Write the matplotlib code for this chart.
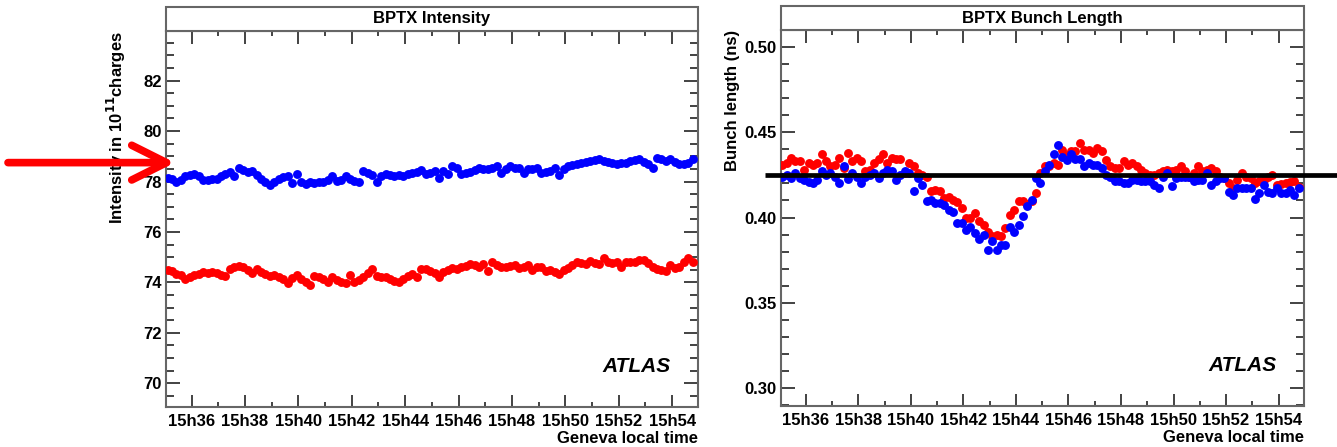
import numpy as np
import matplotlib
matplotlib.use("Agg")
import matplotlib.pyplot as plt
from matplotlib.patches import Rectangle
from matplotlib.ticker import FixedLocator, MultipleLocator

plt.rcParams['font.family'] = ['Liberation Sans', 'DejaVu Sans']
plt.rcParams['font.weight'] = 'bold'
plt.rcParams['mathtext.default'] = 'bf'

# ---------------- data ----------------
# sampling grid: minutes after 15h00, one reading every 10 s
t_start = 35.1
t_step = 1.0 / 6.0

intensity_blue = [
    78.15, 78.10, 78.00, 78.05, 78.20, 78.25, 78.28, 78.20, 78.08, 78.05,
    78.10, 78.12, 78.20, 78.30, 78.38, 78.20, 78.55, 78.45, 78.38, 78.42,
    78.25, 78.10, 77.98, 77.88, 77.98, 78.12, 78.18, 78.22, 77.95, 78.30,
    78.00, 77.92, 77.98, 77.95, 78.00, 77.98, 78.08, 78.20, 78.02, 78.05,
    78.20, 78.12, 78.02, 78.00, 78.40, 78.35, 78.25, 78.00, 78.22, 78.28,
    78.25, 78.22, 78.25, 78.20, 78.28, 78.32, 78.38, 78.45, 78.30, 78.35,
    78.40, 78.15, 78.40, 78.30, 78.60, 78.55, 78.28, 78.32, 78.38, 78.45,
    78.55, 78.50, 78.48, 78.55, 78.63, 78.35, 78.50, 78.60, 78.52, 78.55,
    78.35, 78.50, 78.48, 78.52, 78.32, 78.38, 78.42, 78.55, 78.25, 78.50,
    78.60, 78.67, 78.70, 78.72, 78.77, 78.80, 78.85, 78.90, 78.82, 78.78,
    78.75, 78.68, 78.72, 78.75, 78.80, 78.85, 78.88, 78.78, 78.70, 78.55,
    78.95, 78.88, 78.80, 78.90, 78.78, 78.70, 78.68, 78.72, 78.88,
]
intensity_red = [
    74.48, 74.45, 74.35, 74.30, 74.15, 74.22, 74.28, 74.35, 74.40, 74.38,
    74.42, 74.36, 74.30, 74.25, 74.55, 74.62, 74.65, 74.60, 74.50, 74.38,
    74.52, 74.42, 74.35, 74.25, 74.28, 74.20, 74.12, 73.98, 74.18, 74.30,
    74.12, 74.00, 73.90, 74.25, 74.20, 74.12, 74.00, 74.22, 74.10, 74.02,
    73.98, 74.30, 74.00, 74.10, 74.20, 74.36, 74.52, 74.25, 74.22, 74.20,
    74.13, 74.05, 74.02, 74.12, 74.25, 74.35, 74.20, 74.55, 74.52, 74.45,
    74.38, 74.22, 74.42, 74.50, 74.57, 74.55, 74.60, 74.65, 74.72, 74.68,
    74.62, 74.74, 74.45, 74.82, 74.70, 74.62, 74.60, 74.65, 74.70, 74.57,
    74.62, 74.68, 74.48, 74.60, 74.62, 74.45, 74.48, 74.42, 74.33, 74.48,
    74.58, 74.70, 74.82, 74.75, 74.72, 74.83, 74.75, 74.72, 74.95, 74.80,
    74.78, 74.80, 74.60, 74.80, 74.82, 74.80, 74.88, 74.90, 74.75, 74.62,
    74.55, 74.50, 74.45, 74.68, 74.58, 74.62, 74.80, 74.95, 74.82,
]
bunch_red = [
    0.4310, 0.4320, 0.4350, 0.4330, 0.4330, 0.4280, 0.4320, 0.4310, 0.4320, 0.4370,
    0.4330, 0.4300, 0.4310, 0.4350, 0.4290, 0.4380, 0.4330, 0.4350, 0.4330, 0.4270,
    0.4280, 0.4320, 0.4340, 0.4370, 0.4320, 0.4350, 0.4340, 0.4340, 0.4260, 0.4320,
    0.4300, 0.4260, 0.4250, 0.4240, 0.4155, 0.4160, 0.4155, 0.4115, 0.4120, 0.4100,
    0.4090, 0.4055, 0.3996, 0.3996, 0.4026, 0.3980, 0.3957, 0.3918, 0.3889, 0.3898,
    0.3889, 0.3938, 0.4016, 0.4045, 0.4094, 0.4094, 0.4080, 0.4094, 0.4143, 0.4260,
    0.4299, 0.4300, 0.4318, 0.4309, 0.4397, 0.4367, 0.4387, 0.4387, 0.4439, 0.4397,
    0.4397, 0.4377, 0.4406, 0.4387, 0.4338, 0.4299, 0.4289, 0.4289, 0.4328, 0.4310,
    0.4318, 0.4300, 0.4280, 0.4260, 0.4250, 0.4250, 0.4260, 0.4270, 0.4280, 0.4275,
    0.4280, 0.4299, 0.4270, 0.4240, 0.4260, 0.4299, 0.4270, 0.4280, 0.4289, 0.4270,
    0.4240, 0.4230, 0.4200, 0.4172, 0.4221, 0.4260, 0.4240, 0.4232, 0.4201, 0.4211,
    0.4220, 0.4235, 0.4250, 0.4191, 0.4195, 0.4201, 0.4210, 0.4211, 0.4180,
]
bunch_blue = [
    0.4240, 0.4250, 0.4230, 0.4260, 0.4230, 0.4220, 0.4210, 0.4200, 0.4220, 0.4270,
    0.4250, 0.4260, 0.4240, 0.4200, 0.4300, 0.4225, 0.4260, 0.4240, 0.4200, 0.4240,
    0.4250, 0.4260, 0.4230, 0.4260, 0.4280, 0.4270, 0.4220, 0.4250, 0.4270, 0.4260,
    0.4155, 0.4230, 0.4190, 0.4095, 0.4100, 0.4085, 0.4085, 0.4075, 0.4045, 0.4030,
    0.3967, 0.3967, 0.3928, 0.3947, 0.3910, 0.3875, 0.3898, 0.3811, 0.3860, 0.3811,
    0.3840, 0.3840, 0.3947, 0.3918, 0.3957, 0.4006, 0.4065, 0.4104, 0.4232, 0.4201,
    0.4270, 0.4309, 0.4373, 0.4426, 0.4357, 0.4338, 0.4373, 0.4342, 0.4342, 0.4299,
    0.4318, 0.4309, 0.4309, 0.4289, 0.4250, 0.4240, 0.4211, 0.4211, 0.4201, 0.4201,
    0.4221, 0.4221, 0.4211, 0.4211, 0.4211, 0.4191, 0.4172, 0.4240, 0.4260, 0.4182,
    0.4232, 0.4240, 0.4240, 0.4240, 0.4211, 0.4220, 0.4221, 0.4260, 0.4191, 0.4211,
    0.4232, 0.4232, 0.4152, 0.4129, 0.4172, 0.4172, 0.4172, 0.4172, 0.4108, 0.4143,
    0.4191, 0.4152, 0.4143, 0.4172, 0.4143, 0.4143, 0.4162, 0.4133, 0.4172,
]
nominal_bunch_length = 0.425
arrow_level = 78.75

tick_minutes = [36, 38, 40, 42, 44, 46, 48, 50, 52, 54]
tick_labels = ['15h36', '15h38', '15h40', '15h42', '15h44',
               '15h46', '15h48', '15h50', '15h52', '15h54']
x_range = (35.04, 54.97)
panel_titles = ['BPTX Intensity', 'BPTX Bunch Length']
y_labels = ['Intensity in 10$^{11}$charges', 'Bunch length (ns)']
x_label = 'Geneva local time'

t_left = t_start + t_step * np.arange(len(intensity_blue))
t_right = t_start + t_step * np.arange(len(bunch_red))

# ---------------- figure ----------------
W, H = 1337, 447
fig = plt.figure(figsize=(W / 100, H / 100), dpi=100)
fig.patch.set_facecolor('white')

ax1 = fig.add_axes([166 / W, (H - 406.7) / H, 532 / W, 375.7 / H])
ax2 = fig.add_axes([780.7 / W, (H - 405.7) / H, 523.3 / W, 375.7 / H])

FS = 12
frame_col = '#666666'
ms = 6.4


def style(ax, ylim, ymajor, yminor, title, ylab, labx):
    ax.set_xlim(*x_range)
    ax.set_ylim(*ylim)
    ax.xaxis.set_major_locator(FixedLocator(tick_minutes))
    ax.set_xticklabels(tick_labels)
    ax.xaxis.set_minor_locator(MultipleLocator(1))
    ax.yaxis.set_major_locator(MultipleLocator(ymajor))
    ax.yaxis.set_minor_locator(MultipleLocator(yminor))
    ax.tick_params(axis='both', which='both', direction='in',
                   top=True, right=True, colors='#222222', width=1.2,
                   labelsize=FS, labelcolor='black')
    ax.tick_params(axis='x', which='major', length=9, pad=5)
    ax.tick_params(axis='x', which='minor', length=3.8)
    ax.tick_params(axis='y', which='major', length=10, pad=3)
    ax.tick_params(axis='y', which='minor', length=5.5)
    for lab in ax.get_xticklabels() + ax.get_yticklabels():
        lab.set_fontweight('bold')
    for sp in ax.spines.values():
        sp.set_color(frame_col)
        sp.set_linewidth(1.5)
    # title box
    hb = 24 / 375.7
    ax.add_patch(Rectangle((0, 1), 1, hb, transform=ax.transAxes,
                           clip_on=False, facecolor='white',
                           edgecolor=frame_col, lw=1.5, zorder=5))
    ax.text(0.5, 1 + hb / 2, title, transform=ax.transAxes, ha='center',
            va='center', fontsize=FS, fontweight='bold', zorder=6)
    ax.set_ylabel(ylab, fontsize=FS, fontweight='bold', loc='top')
    ax.yaxis.set_label_coords(labx, 1.0)
    ax.set_xlabel(x_label, fontsize=FS, fontweight='bold', loc='right')
    ax.xaxis.set_label_coords(1.0, -0.065)
    ax.text(0.948, 0.106, 'ATLAS', transform=ax.transAxes, ha='right',
            va='center', fontsize=15, fontweight='bold', style='italic')


style(ax1, (69.07, 83.97), 2, 0.5, panel_titles[0], y_labels[0], -0.072)
style(ax2, (0.2898, 0.5098), 0.05, 0.01, panel_titles[1], y_labels[1], -0.078)
ax2.yaxis.set_major_formatter(plt.FormatStrFormatter('%.2f'))

ax1.plot(t_left, intensity_blue, 'o', color='#0000ff', ms=ms, mew=0, zorder=3)
ax1.plot(t_left, intensity_red, 'o', color='#ff0000', ms=ms, mew=0, zorder=3)

ax2.plot(t_right, bunch_red, 'o', color='#ff0000', ms=ms, mew=0, zorder=3)
ax2.plot(t_right, bunch_blue, 'o', color='#0000ff', ms=ms, mew=0, zorder=3)

# nominal bunch-length reference line (extends past the frame)
ax2.plot([34.44, 56.3], [nominal_bunch_length] * 2, color='black', lw=3.4,
         solid_capstyle='butt', clip_on=False, zorder=7)

# red arrow pointing at the blue intensity level
ax1.annotate('', xy=(175 / W, arrow_level), xytext=(8 / W, arrow_level),
             xycoords=('figure fraction', 'data'),
             textcoords=('figure fraction', 'data'),
             arrowprops=dict(arrowstyle='->,head_length=2.5,head_width=1.25',
                             mutation_scale=10, lw=5.5, color='#ff0000',
                             shrinkA=0, shrinkB=0),
             annotation_clip=False, zorder=10)

fig.savefig('out.png', dpi=100)
